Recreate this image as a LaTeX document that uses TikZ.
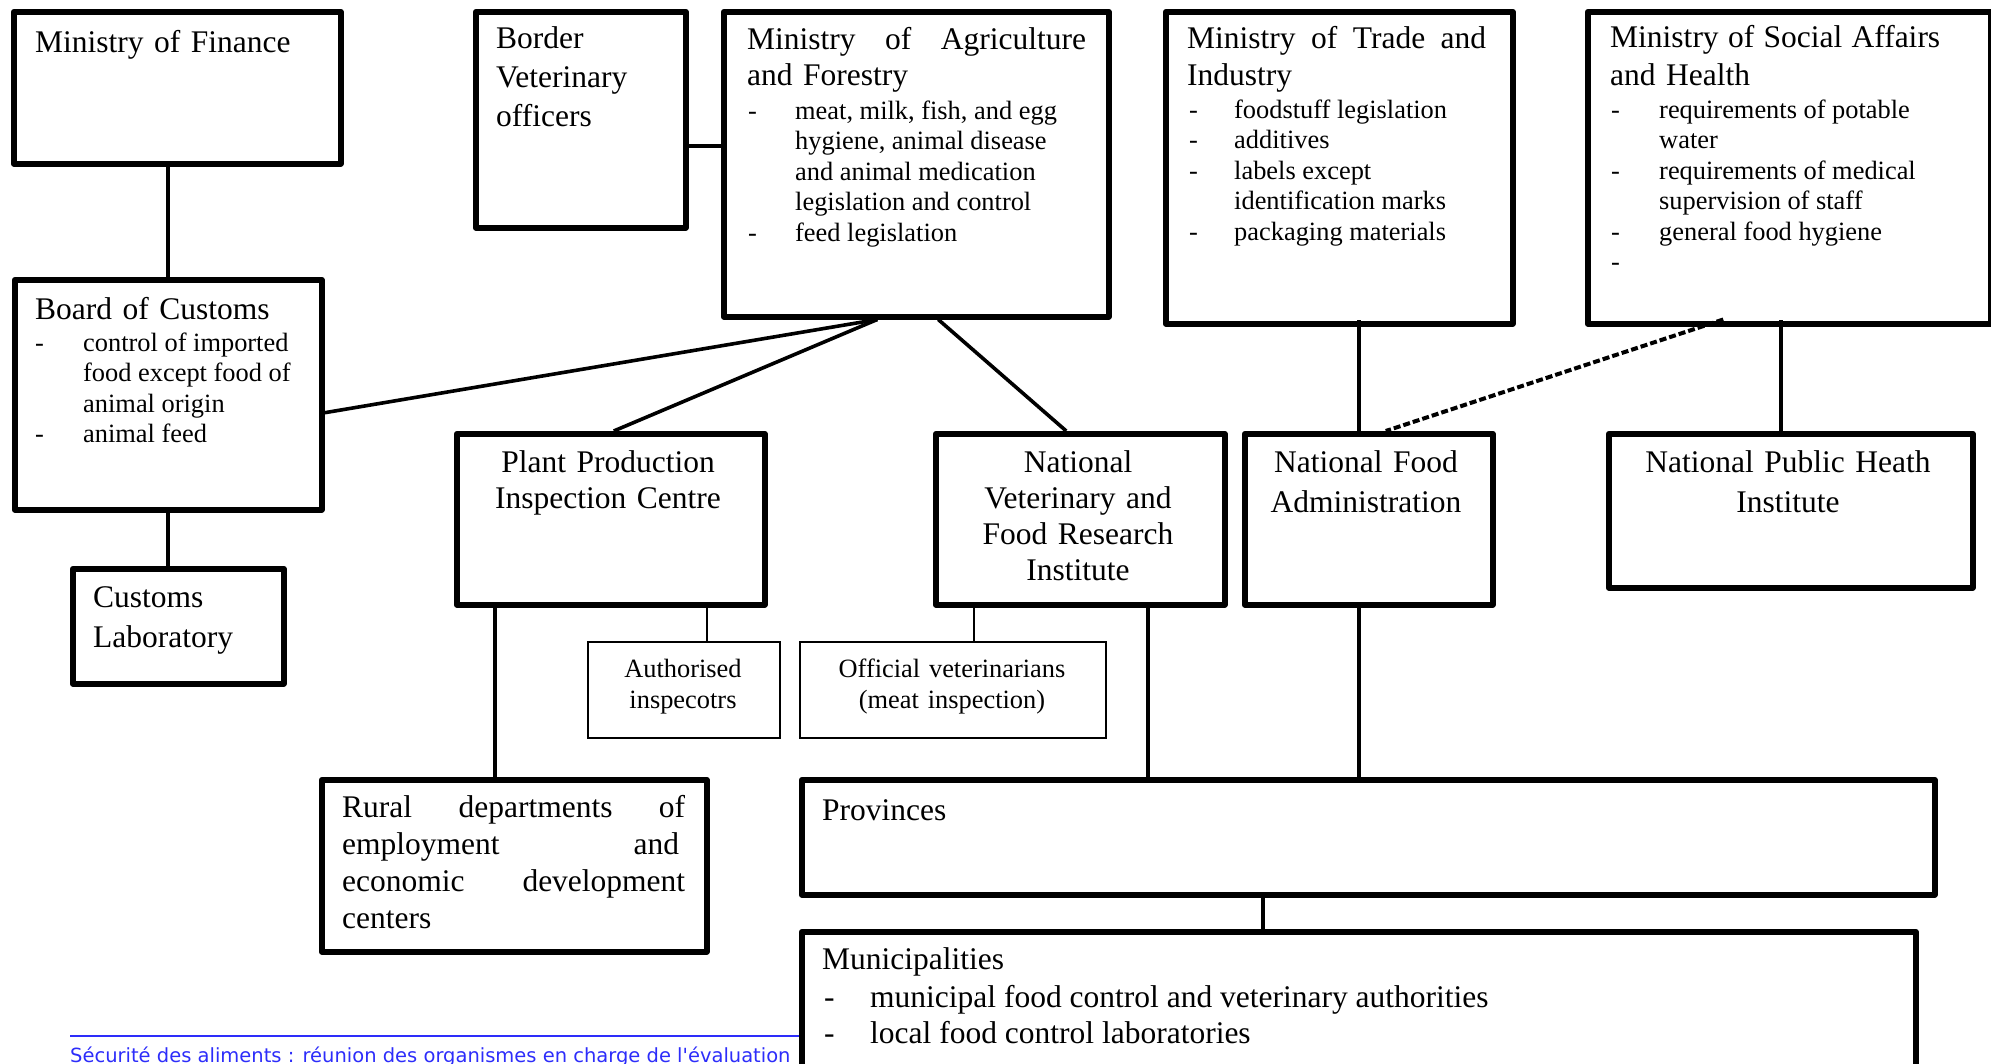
\documentclass[tikz,border=0pt]{standalone}
\usepackage{fontspec}
\setmainfont{Liberation Serif}
\newfontfamily\footfont{DejaVu Sans}
\usetikzlibrary{positioning}

\definecolor{footblue}{RGB}{45,45,250}

\newcommand{\bigfont}[1]{\fontsize{31.5}{#1}\selectfont}
\newcommand{\smallfont}{\fontsize{26.4}{30.5}\selectfont}
\newcommand{\fullline}[2]{\leavevmode\hbox to #1{#2}}

\begin{document}
\begin{tikzpicture}[x=1pt,y=-1pt,
  orgbox/.style={draw,line width=5.5pt,line join=round,inner sep=0pt,anchor=north west},
  subbox/.style={draw,line width=1.6pt,inner sep=0pt,anchor=north west},
  txt/.style={inner sep=0pt,anchor=base west,align=left,font=\bigfont{37}},
  ctxt/.style={inner sep=0pt,anchor=base,align=center,font=\bigfont{36.3}},
  lst/.style={inner sep=0pt,anchor=base west,font=\smallfont},
  link/.style={line width=3.6pt},
  thinlink/.style={line width=1.8pt}]
  \useasboundingbox (0,0) rectangle (1991,1063);
  \clip (0,0) rectangle (1991,1063);
  % ministries
  \node[orgbox,minimum width=327,minimum height=152] (fin) at (11,9) {};
  \node[orgbox,minimum width=210,minimum height=216] (border) at (473,9) {};
  \node[orgbox,minimum width=385,minimum height=305] (agri) at (721,9) {};
  \node[orgbox,minimum width=347,minimum height=312] (trade) at (1163,9) {};
  \node[orgbox,minimum width=403,minimum height=312] (social) at (1585,9) {};
  \node[txt,text width=300] (fin-t) at (35,52) {Ministry of Finance};
  \node[txt,text width=180,font=\bigfont{39}] (border-t) at (496,48) {Border\\Veterinary\\officers};
  \node[txt,text width=339,font=\bigfont{36}] (agri-t) at (747,49)
    {\fullline{339pt}{Ministry\hfill of\hfill Agriculture}\\and Forestry};
  \node[lst] (agri-l) at (748,119) {\begin{tabular}[t]{@{}p{47pt}@{}l@{}}
    - & meat, milk, fish, and egg\\
      & hygiene, animal disease\\
      & and animal medication\\
      & legislation and control\\
    - & feed legislation
  \end{tabular}};
  \node[txt,text width=299] (trade-t) at (1187,48)
    {\fullline{299pt}{Ministry\hfill of\hfill Trade\hfill and}\\Industry};
  \node[lst] (trade-l) at (1189,118) {\begin{tabular}[t]{@{}p{45pt}@{}l@{}}
    - & foodstuff legislation\\
    - & additives\\
    - & labels except\\
      & identification marks\\
    - & packaging materials
  \end{tabular}};
  \node[txt,text width=330,font=\bigfont{38}] (social-t) at (1610,47)
    {\fullline{330pt}{Ministry\hfill of\hfill Social\hfill Affairs}\\and Health};
  \node[lst] (social-l) at (1611,118) {\begin{tabular}[t]{@{}p{48pt}@{}l@{}}
    - & requirements of potable\\
      & water\\
    - & requirements of medical\\
      & supervision of staff\\
    - & general food hygiene\\
    - &
  \end{tabular}};
  % customs
  \node[orgbox,minimum width=307,minimum height=230] (customs) at (12,277) {};
  \node[orgbox,minimum width=211,minimum height=115] (lab) at (70,566) {};
  \node[txt,text width=270] (customs-t) at (35,319) {Board of Customs};
  \node[lst] (customs-l) at (35,351) {\begin{tabular}[t]{@{}p{48pt}@{}l@{}}
    - & control of imported\\
      & food except food of\\
      & animal origin\\
    - & animal feed
  \end{tabular}};
  \node[txt,text width=180,font=\bigfont{40}] (lab-t) at (93,607) {Customs\\Laboratory};
  % institutes
  \node[orgbox,minimum width=308,minimum height=171] (plant) at (454,431) {};
  \node[orgbox,minimum width=289,minimum height=171] (natvet) at (933,431) {};
  \node[orgbox,minimum width=248,minimum height=171] (nfa) at (1242,431) {};
  \node[orgbox,minimum width=364,minimum height=154] (nph) at (1606,431) {};
  \node[ctxt,text width=300,font=\bigfont{36}] (plant-t) at (608,472) {Plant Production\\Inspection Centre};
  \node[ctxt,text width=280] (natvet-t) at (1078,472) {National\\Veterinary and\\Food Research\\Institute};
  \node[ctxt,text width=240,font=\bigfont{40}] (nfa-t) at (1366,472) {National Food\\Administration};
  \node[ctxt,text width=350,font=\bigfont{40}] (nph-t) at (1788,472) {National Public Heath\\Institute};
  \node[subbox,minimum width=192,minimum height=96] (auth) at (587,641) {};
  \node[subbox,minimum width=306,minimum height=96] (offv) at (799,641) {};
  \node[ctxt,text width=180,font=\fontsize{26.4}{31}\selectfont] (auth-t) at (683,677) {Authorised\\inspecotrs};
  \node[ctxt,text width=300,font=\fontsize{26.4}{31}\selectfont] (offv-t) at (952,677) {Official veterinarians\\(meat inspection)};
  % regional and local level
  \node[orgbox,minimum width=385,minimum height=172] (rural) at (319,777) {};
  \node[orgbox,minimum width=1133,minimum height=115] (prov) at (799,777) {};
  \node[orgbox,minimum width=1114,minimum height=180] (muni) at (799,929) {};
  \node[txt,text width=343] (rural-t) at (342,817)
    {\fullline{343pt}{Rural\hfill departments\hfill of}\\\fullline{337pt}{employment\hfill and}\\\fullline{343pt}{economic\hfill development}\\centers};
  \node[txt,text width=300] (prov-t) at (822,820) {Provinces};
  \node[txt,text width=300] (muni-t) at (822,969) {Municipalities};
  \node[lst,font=\bigfont{36}] (muni-l) at (824,1007) {\begin{tabular}[t]{@{}p{46pt}@{}l@{}}
    - & municipal food control and veterinary authorities\\
    - & local food control laboratories
  \end{tabular}};
  % connectors
  \coordinate (agri-a) at ([xshift=-39pt]agri.south);
  \draw[link] (customs.north) -- (customs.north |- fin.south);
  \draw[link] (customs.south) -- (customs.south |- lab.north);
  \draw[link] ([yshift=-26pt]border.east) -- ([yshift=-26pt]border.east -| agri.west);
  \draw[link] (agri-a) -- ([yshift=-18pt]customs.east);
  \draw[link] (agri-a) -- ([xshift=3pt]plant.north);
  \draw[link] ([xshift=22pt]agri.south) -- ([xshift=-14pt]natvet.north);
  \draw[link] ([xshift=-10pt]nfa.north) -- ([xshift=-10pt,yshift=7pt]nfa.north |- trade.south);
  \draw[link,line width=4pt,dash pattern=on 7pt off 3pt] ([xshift=-66pt,yshift=7pt]social.south) -- ([xshift=17pt]nfa.north);
  \draw[link] ([xshift=-10pt]nph.north) -- ([xshift=-10pt,yshift=7pt]nph.north |- social.south);
  \draw[link] ([xshift=-116pt]plant.south) -- ([xshift=-116pt]plant.south |- rural.north);
  \draw[thinlink] ([xshift=96pt]plant.south) -- ([xshift=96pt]plant.south |- auth.north);
  \draw[thinlink] ([xshift=-106pt]natvet.south) -- ([xshift=-106pt]natvet.south |- offv.north);
  \draw[link] ([xshift=68pt]natvet.south) -- ([xshift=68pt]natvet.south |- prov.north);
  \draw[link] ([xshift=-10pt]nfa.south) -- ([xshift=-10pt]nfa.south |- prov.north);
  \draw[link] ([xshift=-105pt]prov.south) -- ([xshift=-105pt]prov.south |- muni.north);
  % footer
  \draw[footblue,line width=2pt] (70,1036) -- (muni.west |- 0,1036);
  \node[inner sep=0pt,anchor=base west,text=footblue,font=\footfont\fontsize{19.5}{22}\selectfont] (foot) at (70,1062)
    {Sécurité des aliments : réunion des organismes en charge de l'évaluation};
\end{tikzpicture}
\end{document}
